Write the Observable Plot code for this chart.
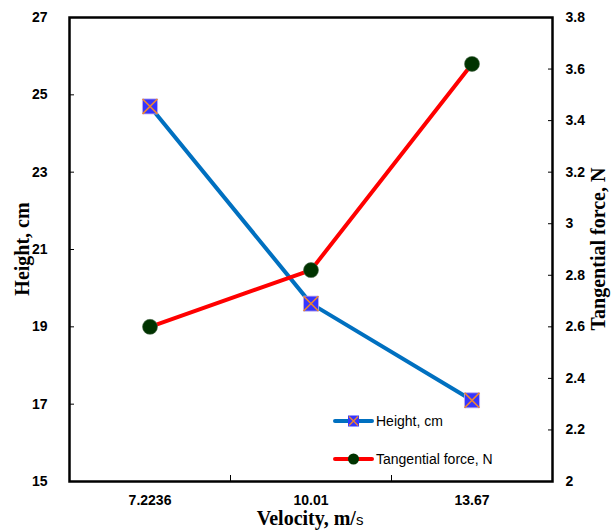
<!DOCTYPE html>
<html>
<head>
<meta charset="utf-8">
<script src="https://cdn.jsdelivr.net/npm/d3@7"></script>
<script src="https://cdn.jsdelivr.net/npm/@observablehq/plot@0.6"></script>
<style>
  html, body { margin: 0; padding: 0; background: #fff; }
  #wrap { position: relative; width: 614px; height: 531px; }
</style>
</head>
<body>
<div id="wrap"></div>
<script>
// ---- data ----
const categories = ["7.2236", "10.01", "13.67"];
const heightValues = [24.7, 19.6, 17.1];
const forceValues = [2.6, 2.82, 3.62];
const heightTicks = [15, 17, 19, 21, 23, 25, 27];
const forceTicks = [2, 2.2, 2.4, 2.6, 2.8, 3, 3.2, 3.4, 3.6, 3.8];
const heightDomain = [15, 27];
const forceDomain = [2, 3.8];

// map secondary axis (force) into primary (height) units
const toH = f => heightDomain[0] + (f - forceDomain[0]) * (heightDomain[1] - heightDomain[0]) / (forceDomain[1] - forceDomain[0]);
const fromH = h => forceDomain[0] + (h - heightDomain[0]) * (forceDomain[1] - forceDomain[0]) / (heightDomain[1] - heightDomain[0]);

const heightData = categories.map((c, i) => ({idx: i + 1, v: heightValues[i]}));
const forceData = categories.map((c, i) => ({idx: i + 1, v: toH(forceValues[i])}));
const boundaries = categories.slice(1).map((c, i) => i + 1.5);

const tickFont = {fontFamily: "Liberation Sans, Arial, sans-serif", fontWeight: "bold", fontSize: 14, fill: "black"};

const chart = Plot.plot({
  width: 614,
  height: 531,
  marginLeft: 69,
  marginRight: 62,
  marginTop: 17,
  marginBottom: 50,
  style: {background: "white", color: "black", overflow: "visible"},
  x: {domain: [0.5, categories.length + 0.5]},
  y: {domain: heightDomain},
  marks: [
    Plot.axisY({ticks: heightTicks, tickSize: 0, tickPadding: 22, label: null, ...tickFont}),
    Plot.axisY({ticks: heightTicks, tickSize: -5, tickFormat: () => "", label: null, stroke: "black"}),
    Plot.axisY({anchor: "right", ticks: forceTicks.map(toH), tickSize: 0, tickPadding: 13,
      tickFormat: h => String(+fromH(h).toFixed(1)), label: null, ...tickFont}),
    Plot.axisY({anchor: "right", ticks: forceTicks.map(toH), tickSize: -5, tickFormat: () => "", label: null, stroke: "black"}),
    Plot.axisX({ticks: categories.map((c, i) => i + 1), tickSize: 0, tickPadding: 14,
      tickFormat: d => categories[d - 1], label: null, ...tickFont}),
    Plot.axisX({ticks: boundaries, tickSize: -6, tickFormat: () => "", label: null, stroke: "black"}),
    Plot.frame({stroke: "black", strokeWidth: 2.5}),
    Plot.line(heightData, {x: "idx", y: "v", stroke: "#0070C0", strokeWidth: 4}),
    Plot.dot(heightData, {x: "idx", y: "v", symbol: "square", r: 8.5, fill: "#3535FF", stroke: "#C8B0E8", strokeWidth: 0.8}),
    Plot.dot(heightData, {x: "idx", y: "v", symbol: "times", r: 6.8, stroke: "#F0852D", strokeWidth: 1.6, fill: "none"}),
    Plot.line(forceData, {x: "idx", y: "v", stroke: "#FF0000", strokeWidth: 4}),
    Plot.dot(forceData, {x: "idx", y: "v", r: 7.5, fill: "#003300", stroke: "#4a6a4a", strokeWidth: 0.6})
  ]
});

const wrap = document.getElementById("wrap");
wrap.appendChild(chart);

const svg = d3.select(chart);
const serif = "Liberation Serif, Times New Roman, serif";
svg.append("text")
  .attr("transform", "translate(29,249) rotate(-90)")
  .attr("text-anchor", "middle")
  .attr("font-family", serif).attr("font-weight", "bold").attr("font-size", 20)
  .attr("fill", "black")
  .text("Height, cm");
svg.append("text")
  .attr("transform", "translate(605,249) rotate(-90)")
  .attr("text-anchor", "middle")
  .attr("font-family", serif).attr("font-weight", "bold").attr("font-size", 20)
  .attr("fill", "black")
  .text("Tangential force, N");
const vt = svg.append("text")
  .attr("x", 310).attr("y", 525)
  .attr("text-anchor", "middle")
  .attr("font-family", serif).attr("font-weight", "bold").attr("font-size", 20)
  .attr("fill", "black");
vt.append("tspan").text("Velocity, m/");
vt.append("tspan").attr("font-family", "Liberation Sans, Arial, sans-serif").attr("font-weight", "normal").attr("font-size", 15).text("s");

// legend
const lg = svg.append("g")
  .attr("font-family", "Liberation Sans, Arial, sans-serif")
  .attr("font-size", 14)
  .attr("text-anchor", "start");
const items = [
  {label: "Height, cm", color: "#0070C0", kind: "square"},
  {label: "Tangential force, N", color: "#FF0000", kind: "circle"}
];
items.forEach((it, i) => {
  const y = 421 + i * 38;
  const g = lg.append("g").attr("transform", `translate(335,${y})`);
  g.append("line").attr("x1", 0).attr("x2", 37).attr("y1", 0).attr("y2", 0)
    .attr("stroke", it.color).attr("stroke-width", 4).attr("stroke-linecap", "round");
  if (it.kind === "square") {
    g.append("rect").attr("x", 13).attr("y", -5.5).attr("width", 11).attr("height", 11).attr("fill", "#3535FF");
    g.append("path").attr("d", "M14,-4.5L23,4.5M14,4.5L23,-4.5").attr("stroke", "#F0852D").attr("stroke-width", 1.4);
  } else {
    g.append("circle").attr("cx", 18.5).attr("cy", 0).attr("r", 5.5).attr("fill", "#003300");
  }
  g.append("text").attr("x", 41).attr("y", 0).attr("dy", "0.35em")
    .attr("text-anchor", "start").attr("fill", "black").text(it.label);
});
</script>
</body>
</html>
